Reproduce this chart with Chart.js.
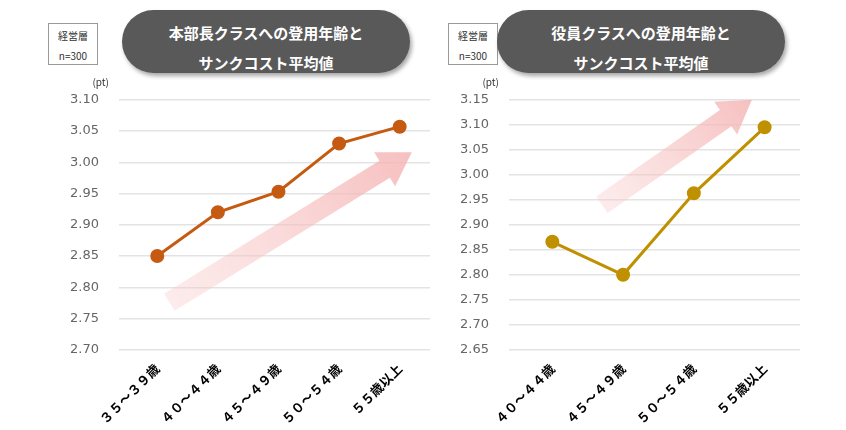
<!DOCTYPE html>
<html lang="ja">
<head>
<meta charset="UTF-8" />
<script src="https://cdn.jsdelivr.net/npm/chart.js"></script>
<style>
  body { margin: 0; width: 846px; height: 430px; background: #fff; position: relative; overflow: hidden;
    font-family: "Noto Sans CJK JP", sans-serif; }
  .title { position: absolute; background: #595959; color: #fff; border-radius: 36px; text-align: center;
    font-weight: bold; font-size: 15px; line-height: 30px; padding-top: 8px; box-sizing: border-box;
    box-shadow: 2px 3px 4px rgba(0,0,0,0.35); }
  .badge { position: absolute; border: 1px solid #999; font-size: 10px; text-align: center; line-height: 20px;
    padding-top: 2px; box-sizing: border-box; color: #333; }
  .cv { position: absolute; }
</style>
</head>
<body>
  <div class="badge" style="left:48px;top:23px;width:50px;height:42px;">経営層<br>n=300</div>
  <div class="title" style="left:122px;top:10px;width:288px;height:63px;">本部長クラスへの登用年齢と<br>サンクコスト平均値</div>
  <div class="badge" style="left:448px;top:23px;width:50px;height:42px;">経営層<br>n=300</div>
  <div class="title" style="left:497px;top:10px;width:288px;height:63px;">役員クラスへの登用年齢と<br>サンクコスト平均値</div>
  <div class="cv" style="left:50px;top:72px;width:390px;height:358px;"><canvas id="c1"></canvas></div>
  <div class="cv" style="left:440px;top:72px;width:370px;height:358px;"><canvas id="c2"></canvas></div>
<script>
  const leftLabels = ["３５～３９歳", "４０～４４歳", "４５～４９歳", "５０～５４歳", "５５歳以上"];
  const leftValues = [2.85, 2.92, 2.953, 3.03, 3.057];
  const rightLabels = ["４０～４４歳", "４５～４９歳", "５０～５４歳", "５５歳以上"];
  const rightValues = [2.866, 2.80, 2.963, 3.095];

  // decorative pink arrow, positions given as fractions of the chart area
  function arrowPlugin(x0, y0, x1, y1) {
    return {
      id: "arrow",
      beforeDatasetsDraw(chart) {
        const a = chart.chartArea, ctx = chart.ctx;
        const sx = a.left + x0 * (a.right - a.left), sy = a.top + y0 * (a.bottom - a.top);
        const ex = a.left + x1 * (a.right - a.left), ey = a.top + y1 * (a.bottom - a.top);
        const ang = Math.atan2(ey - sy, ex - sx), len = Math.hypot(ex - sx, ey - sy);
        ctx.save();
        ctx.translate(sx, sy);
        ctx.rotate(ang);
        const g = ctx.createLinearGradient(0, 0, len, 0);
        g.addColorStop(0, "rgba(248,200,200,0.35)");
        g.addColorStop(1, "rgba(245,180,180,0.85)");
        ctx.fillStyle = g;
        const h = 10, hh = 20, hl = 32;
        ctx.beginPath();
        ctx.moveTo(0, -h); ctx.lineTo(len - hl, -h); ctx.lineTo(len - hl, -hh); ctx.lineTo(len, 0);
        ctx.lineTo(len - hl, hh); ctx.lineTo(len - hl, h); ctx.lineTo(0, h);
        ctx.closePath(); ctx.fill();
        ctx.restore();
      }
    };
  }

  function makeChart(id, labels, values, color, min, max, arrow) {
    return new Chart(document.getElementById(id), {
      type: "line",
      data: { labels: labels, datasets: [{ data: values, borderColor: color, backgroundColor: color,
        borderWidth: 3, pointRadius: 5.5, pointHoverRadius: 5.5, tension: 0 }] },
      options: {
        responsive: true, maintainAspectRatio: false, animation: false,
        layout: { padding: { top: 18, right: 10 } },
        plugins: { legend: { display: false }, tooltip: { enabled: false } },
        scales: {
          x: { offset: true, grid: { display: false }, border: { display: false },
            ticks: { maxRotation: 45, minRotation: 45, color: "#000", font: { size: 13, weight: "bold", family: "Noto Sans CJK JP" } } },
          y: { min: min, max: max, border: { display: false },
            grid: { color: "#e3e3e3", lineWidth: 1.5 },
            ticks: { stepSize: 0.05, color: "#666", padding: 20, font: { size: 13, family: "Verdana, DejaVu Sans" },
              callback: v => v.toFixed(2) } }
        }
      },
      plugins: [arrow, {
        id: "unit",
        afterDraw(chart) {
          const ctx = chart.ctx;
          ctx.save(); ctx.fillStyle = "#333"; ctx.font = "10px Noto Sans CJK JP";
          ctx.textAlign = "right";
          ctx.fillText("(pt)", chart.chartArea.left - 18, chart.chartArea.top - 14);
          ctx.restore();
        }
      }]
    });
  }

  makeChart("c1", leftLabels, leftValues, "#c55a11", 2.70, 3.10, arrowPlugin(0.14, 0.81, 0.94, 0.21));
  makeChart("c2", rightLabels, rightValues, "#bf9000", 2.65, 3.15, arrowPlugin(0.30, 0.42, 0.83, 0.0));
</script>
</body>
</html>
